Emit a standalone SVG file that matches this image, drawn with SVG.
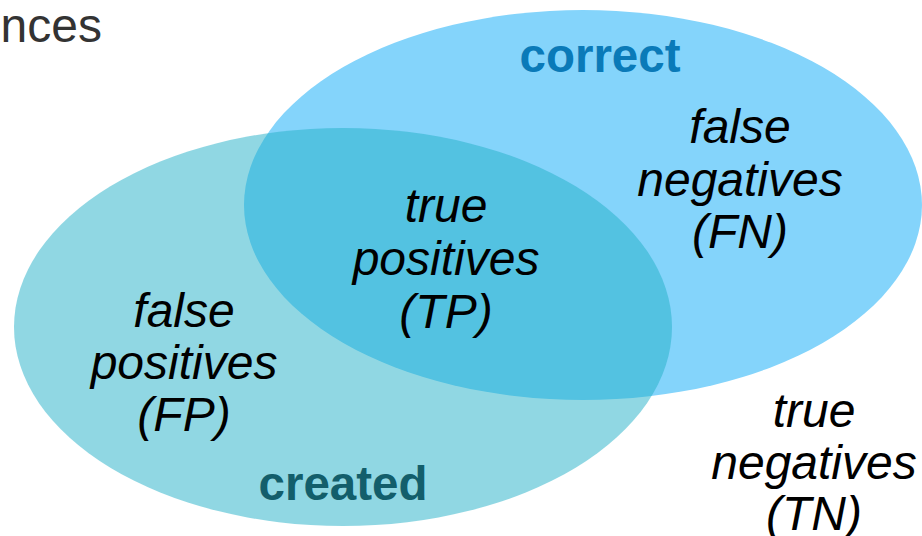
<svg xmlns="http://www.w3.org/2000/svg" width="922" height="536" viewBox="0 0 922 536">
<style>
.lbl{font-family:"Liberation Sans",Arial,sans-serif;font-size:48px;font-style:italic;fill:#000;text-anchor:middle}
.set{font-family:"Liberation Sans",Arial,sans-serif;font-size:47.5px;font-weight:bold;text-anchor:middle}
</style>
<rect width="922" height="536" fill="#fff"/>
<text x="102" y="42" font-family="Liberation Sans, Arial, sans-serif" font-size="48" fill="#333" text-anchor="end">nces</text>
<g id="correct">
<ellipse cx="583" cy="205" rx="339" ry="195" fill="#84D4FB"/>
<text class="set" x="600" y="72" fill="#0A7AB8">correct</text>
</g>
<g id="created">
<ellipse cx="343" cy="327" rx="329" ry="199" fill="#21AFC7" fill-opacity="0.5"/>
<text class="set" x="343" y="500" fill="#135E6B">created</text>
</g>
<g id="tp">
<text class="lbl" x="446" y="222">true</text>
<text class="lbl" x="446" y="275">positives</text>
<text class="lbl" x="446" y="328">(TP)</text>
</g>
<g id="fp">
<text class="lbl" x="184" y="327">false</text>
<text class="lbl" x="184" y="379">positives</text>
<text class="lbl" x="184" y="431">(FP)</text>
</g>
<g id="fn">
<text class="lbl" x="740" y="143">false</text>
<text class="lbl" x="740" y="196">negatives</text>
<text class="lbl" x="740" y="248">(FN)</text>
</g>
<g id="tn">
<text class="lbl" x="814" y="427">true</text>
<text class="lbl" x="814" y="479">negatives</text>
<text class="lbl" x="814" y="530">(TN)</text>
</g>
<g id="connectors"></g>
</svg>
